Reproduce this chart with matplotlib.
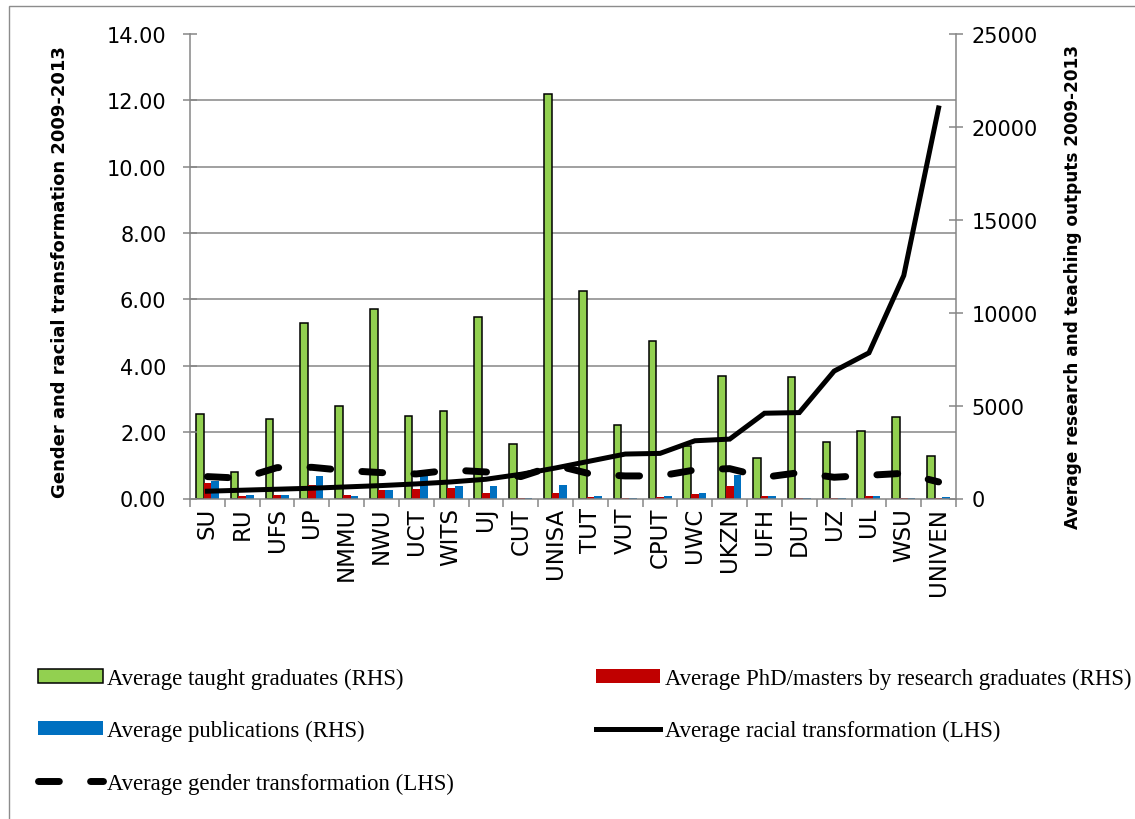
import numpy as np
import matplotlib
matplotlib.use("Agg")
import matplotlib.pyplot as plt
from matplotlib.patches import Rectangle, Patch
from matplotlib.lines import Line2D

# universities, ordered by average racial transformation
CATEGORIES = ["SU", "RU", "UFS", "UP", "NMMU", "NWU", "UCT", "WITS", "UJ", "CUT", "UNISA",
              "TUT", "VUT", "CPUT", "UWC", "UKZN", "UFH", "DUT", "UZ", "UL", "WSU", "UNIVEN"]

# RHS series (counts)
TAUGHT = [4548, 1410, 4279, 9445, 4978, 10199, 4440, 4709, 9768, 2933, 21781,
          11151, 3972, 8493, 2842, 6609, 2180, 6523, 3025, 3617, 4386, 2271]
PHD = [850, 125, 215, 750, 215, 448, 538, 573, 285, 15, 270,
       90, 10, 107, 240, 657, 160, 20, 20, 143, 10, 15]
PUBS = [930, 215, 215, 1220, 143, 448, 1220, 680, 680, 10, 735,
        160, 10, 143, 300, 1280, 160, 40, 40, 143, 10, 80]

# LHS series (transformation index)
RACIAL = [0.22, 0.25, 0.28, 0.31, 0.35, 0.39, 0.44, 0.50, 0.58, 0.73, 0.92,
          1.13, 1.34, 1.36, 1.74, 1.79, 2.57, 2.59, 3.84, 4.39, 6.72, 11.77]
GENDER = [0.66, 0.61, 0.93, 0.94, 0.84, 0.78, 0.74, 0.86, 0.80, 0.66, 1.00,
          0.74, 0.68, 0.68, 0.86, 0.90, 0.64, 0.78, 0.64, 0.70, 0.76, 0.50]

LEFT_TICKS = [0, 2, 4, 6, 8, 10, 12, 14]
RIGHT_TICKS = [0, 5000, 10000, 15000, 20000, 25000]

GREEN = "#92D050"
RED = "#C00000"
BLUE = "#0070C0"
AXIS_GREY = "#868686"

W, H = 1135, 820
fig = plt.figure(figsize=(W / 100, H / 100), dpi=100)

# chart-area border (open at right/bottom like the cropped original)
fig.patches.append(Rectangle((9 / W, -0.05), 1.2, 1 - 7 / H + 0.05, transform=fig.transFigure,
                             fill=False, edgecolor="#8c8c8c", linewidth=1.0))

ax = fig.add_axes([190 / W, 1 - 499.5 / H, (956 - 190) / W, (499.5 - 35) / H])
ax2 = ax.twinx()

# lines above the bars
ax.set_zorder(ax2.get_zorder() + 1)
ax.patch.set_visible(False)

x = np.arange(len(CATEGORIES))
bw = 0.22
ax2.bar(x - bw, TAUGHT, bw, color=GREEN, edgecolor="black", linewidth=1.1, zorder=3)
ax2.bar(x, PHD, bw, color=RED, linewidth=0, zorder=3)
ax2.bar(x + bw, PUBS, bw, color=BLUE, linewidth=0, zorder=3)

ax.plot(x, RACIAL, color="black", linewidth=3.6, solid_joinstyle="miter", zorder=4)
ax.plot(x, GENDER, color="black", linewidth=5.0, dashes=(3.0, 4.5),
        dash_capstyle="round", zorder=4)

ax.set_xlim(-0.5, len(CATEGORIES) - 0.5)
ax.set_ylim(0, 14)
ax2.set_ylim(0, 25000)

# gridlines at the LHS ticks, drawn on the bar axes so they sit behind the bars
ax2.set_yticks([t * 25000 / 14 for t in LEFT_TICKS], minor=True)
ax2.grid(which="minor", axis="y", color=AXIS_GREY, linewidth=1.1, zorder=0)
ax2.set_axisbelow(True)
ax2.tick_params(axis="y", which="minor", length=0)

ax.set_yticks(LEFT_TICKS)
ax.set_yticklabels([f"{t:.2f}" for t in LEFT_TICKS])
ax2.set_yticks(RIGHT_TICKS)
ax2.set_yticklabels([str(t) for t in RIGHT_TICKS])

ax.set_xticks(x)
ax.set_xticklabels(CATEGORIES, rotation=90, fontsize=16.5)
ax.set_xticks(np.arange(len(CATEGORIES) + 1) - 0.5, minor=True)
ax.tick_params(axis="x", which="major", length=0, pad=6)
ax.tick_params(axis="x", which="minor", length=6, direction="out", color=AXIS_GREY, width=1.1)

ax.tick_params(axis="y", direction="inout", length=10, width=1.1, color=AXIS_GREY,
               labelsize=15, pad=12)
ax2.tick_params(axis="y", which="major", direction="inout", length=10, width=1.1,
                color=AXIS_GREY, labelsize=15, pad=6)

for a in (ax, ax2):
    a.spines["top"].set_visible(False)
    for s in ("left", "right", "bottom"):
        a.spines[s].set_color(AXIS_GREY)
        a.spines[s].set_linewidth(1.1)
ax.spines["right"].set_visible(False)
ax2.spines["left"].set_visible(False)
ax2.spines["bottom"].set_visible(False)

fig.text(60 / W, 1 - 272 / H, "Gender and racial transformation 2009-2013", rotation=90,
         ha="center", va="center", fontsize=13, fontweight="bold")
fig.text(1073 / W, 1 - 287 / H, "Average research and teaching outputs 2009-2013", rotation=90,
         ha="center", va="center", fontsize=12.2, fontweight="bold")

handles = [
    Patch(facecolor=GREEN, edgecolor="black", linewidth=1.1),
    Patch(facecolor=BLUE, edgecolor="none"),
    Line2D([], [], color="black", linewidth=5.0, dashes=(3.0, 4.5), dash_capstyle="round"),
    Patch(facecolor=RED, edgecolor="none"),
    Line2D([], [], color="black", linewidth=3.6),
]
labels = [
    "Average taught graduates (RHS)",
    "Average publications (RHS)",
    "Average gender transformation (LHS)",
    "Average PhD/masters by research graduates (RHS)",
    "Average racial transformation (LHS)",
]
fig.legend(handles, labels, loc="upper left", bbox_to_anchor=(38 / W, 1 - 669 / H), ncol=2,
           frameon=False, prop={"family": "Liberation Serif", "size": 16.4},
           handlelength=2.85, handleheight=0.55, handletextpad=0.2, labelspacing=1.36,
           columnspacing=6.2, borderaxespad=0, borderpad=0)

fig.savefig("out.png", dpi=100)
